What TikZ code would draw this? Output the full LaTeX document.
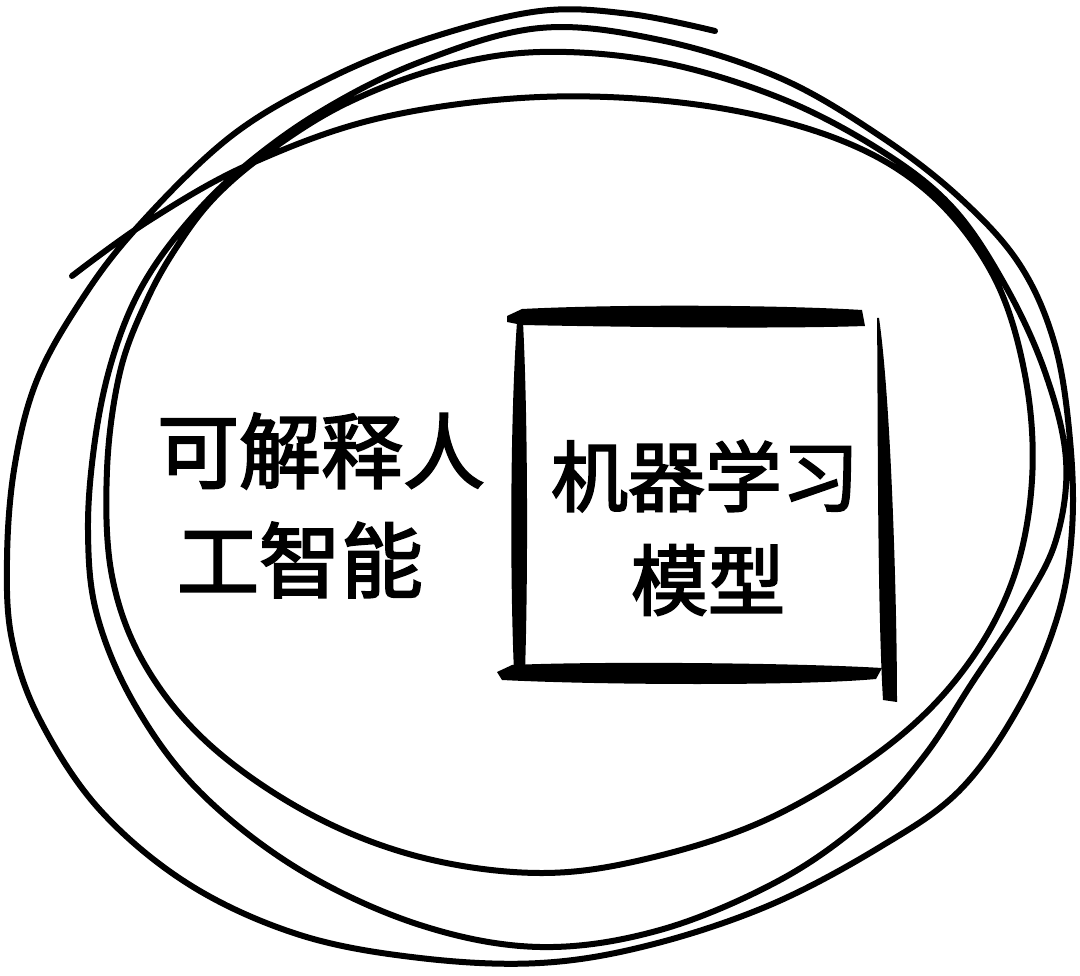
\documentclass[tikz,border=0pt]{standalone}
\usepackage{fontspec}
\newfontfamily\cjk[FakeBold=2.5]{Noto Sans CJK SC}
\begin{document}
\begin{tikzpicture}[x=1pt,y=-1pt,
  loopline/.style={line width=6pt,line cap=round,line join=round,black},
  brush/.style={fill=black},
  bigtext/.style={font=\cjk\fontsize{82}{100}\selectfont,inner sep=0pt},
  boxtext/.style={font=\cjk\fontsize{77}{95}\selectfont,inner sep=0pt}]
\useasboundingbox[fill=white] (0,0) rectangle (1080,976);

% hand drawn spiral
\draw[loopline] plot[smooth,tension=0.6] coordinates{
 (72,276) (150,220) (250,164) (380,118) (540,97) (700,105) (835,138) (928,192)
 (993,275) (1025,375) (1032,480) (1012,582) (962,672) (885,748) (770,818)
 (650,858) (540,873) (420,857) (310,814) (210,745) (145,665) (112,576)
 (107,470) (120,372) (147,300) (178,245) (215,197) (268,152) (345,104)
 (440,68) (540,52)
 (660,62) (780,98) (880,150) (952,207) (1005,285) (1045,372) (1066,460)
 (1056,540) (1022,607) (972,683) (925,755) (868,818) (780,880) (660,930)
 (540,947) (420,925) (300,870) (200,792) (135,705) (97,615) (88,530)
 (95,440) (112,360) (140,290) (183,228) (240,170) (320,112) (420,62) (540,28)
 (660,40) (780,78) (880,136) (960,198) (1020,265) (1055,345) (1070,440)
 (1072,530) (1058,615) (1020,705) (960,790) (880,847) (770,905) (650,945)
 (540,963) (420,958) (300,935) (190,885) (100,810) (40,720) (12,640)
 (7,560) (14,470) (35,385) (75,310) (133,232) (230,137) (330,78) (430,38)
 (540,11) (630,14) (715,31)};

% brush-stroke square
\fill[brush] (507,316) -- (522,309) .. controls (620,304) and (780,305) .. (862,310)
  -- (865,326) .. controls (780,329) and (620,327) .. (522,325) -- (507,322) -- cycle;
\fill[brush] (517,322) .. controls (510,420) and (510,580) .. (514,672)
  -- (525,672) .. controls (528,580) and (528,420) .. (523,322) -- cycle;
\fill[brush] (877,318) .. controls (878,400) and (877,600) .. (883,700)
  -- (897,702) .. controls (897,600) and (891,400) .. (879,318) -- cycle;
\fill[brush] (497,672) -- (512,665) .. controls (600,661) and (800,663) .. (882,668)
  -- (876,679) .. controls (800,686) and (600,685) .. (502,680) -- cycle;

% texts
\node[bigtext] (xaia) at (321,451) {可解释人};
\node[bigtext] (xaib) at (300,560) {工智能};
\node[boxtext] (mla) at (705,476) {机器学习};
\node[boxtext] (mlb) at (708,580) {模型};
\end{tikzpicture}
\end{document}
